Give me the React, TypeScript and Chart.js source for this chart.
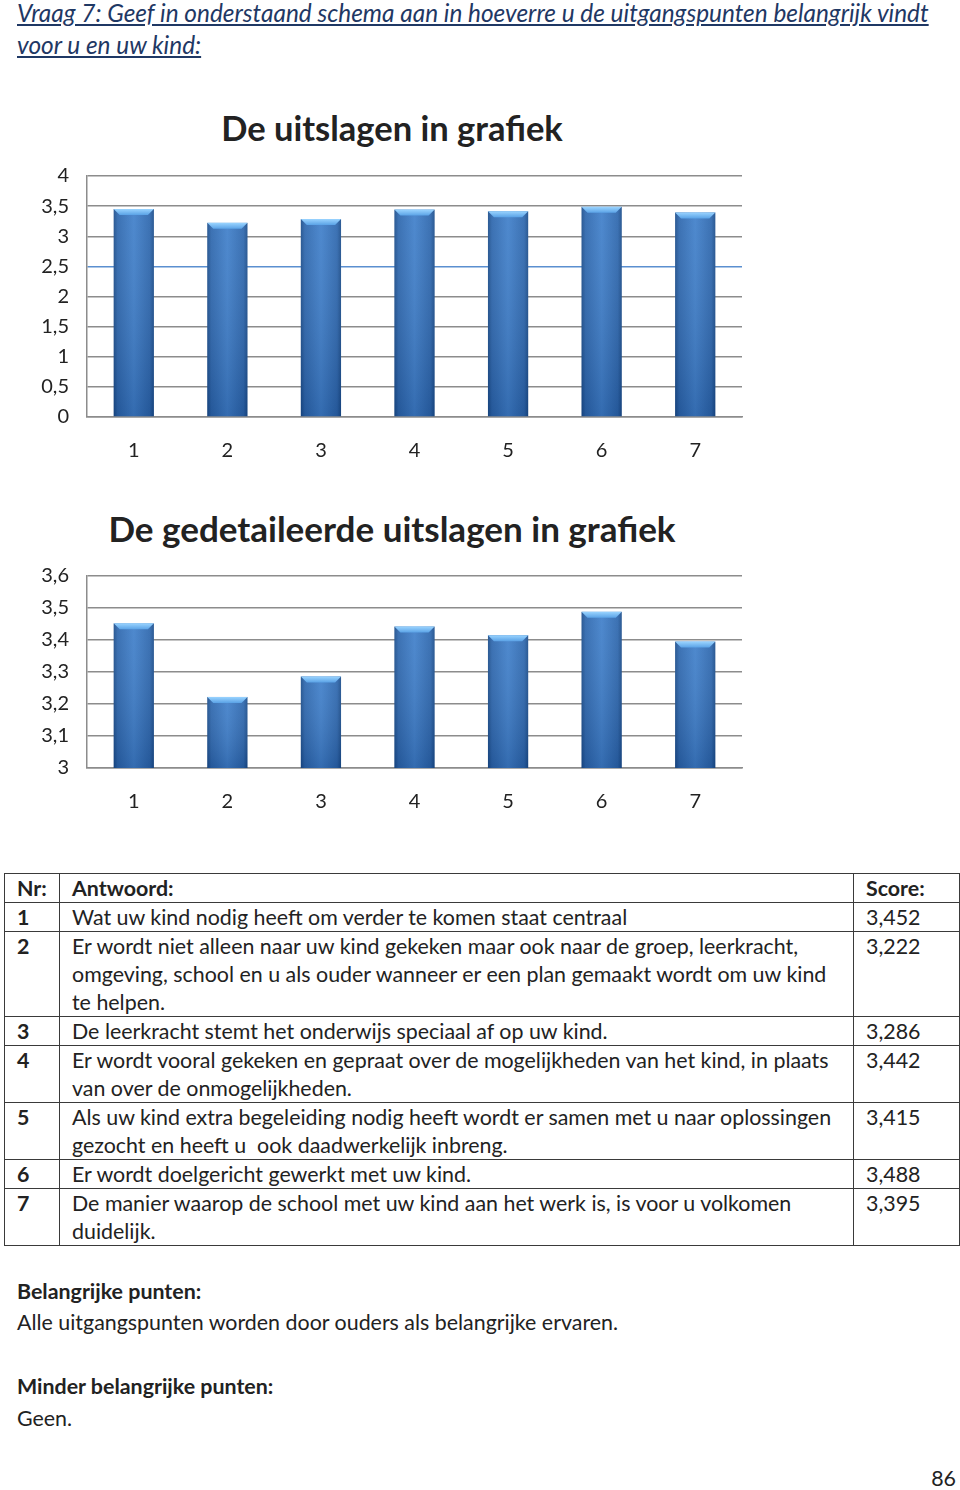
import React, { useEffect, useRef } from "react";
import { Chart, registerables } from "chart.js";

Chart.register(...registerables);

const categories = ["1", "2", "3", "4", "5", "6", "7"];
const scores = [3.452, 3.222, 3.286, 3.442, 3.415, 3.488, 3.395];
const yTicks1 = [0, 0.5, 1, 1.5, 2, 2.5, 3, 3.5, 4];
const yTicks2 = [3, 3.1, 3.2, 3.3, 3.4, 3.5, 3.6];

const questionLines = [
  "Vraag 7: Geef in onderstaand schema aan in hoeverre u de uitgangspunten belangrijk vindt",
  "voor u en uw kind:",
];
const tableHeader = ["Nr:", "Antwoord:", "Score:"];
const answers = [
  ["Wat uw kind nodig heeft om verder te komen staat centraal"],
  [
    "Er wordt niet alleen naar uw kind gekeken maar ook naar de groep, leerkracht,",
    "omgeving, school en u als ouder wanneer er een plan gemaakt wordt om uw kind",
    "te helpen.",
  ],
  ["De leerkracht stemt het onderwijs speciaal af op uw kind."],
  [
    "Er wordt vooral gekeken en gepraat over de mogelijkheden van het kind, in plaats",
    "van over de onmogelijkheden.",
  ],
  [
    "Als uw kind extra begeleiding nodig heeft wordt er samen met u naar oplossingen",
    "gezocht en heeft u  ook daadwerkelijk inbreng.",
  ],
  ["Er wordt doelgericht gewerkt met uw kind."],
  [
    "De manier waarop de school met uw kind aan het werk is, is voor u volkomen",
    "duidelijk.",
  ],
];
const scoreLabels = ["3,452", "3,222", "3,286", "3,442", "3,415", "3,488", "3,395"];

const FONT = "Lato, 'Open Sans', sans-serif";

const fmt = (v: number) => String(Number(v.toFixed(2))).replace(".", ",");

const bevelPlugin = {
  id: "bevelBars",
  afterDatasetsDraw(chart: any) {
    const ctx = chart.ctx as CanvasRenderingContext2D;
    const area = chart.chartArea;
    const meta = chart.getDatasetMeta(0);
    ctx.save();
    meta.data.forEach((bar: any) => {
      const w = bar.width;
      const l = bar.x - w / 2;
      const r = bar.x + w / 2;
      const top = Math.max(bar.y, area.top);
      const base = Math.min(bar.base, area.bottom);
      const g = ctx.createLinearGradient(l, 0, r, 0);
      g.addColorStop(0, "#1a4c8a");
      g.addColorStop(0.1, "#2c66ad");
      g.addColorStop(0.5, "#3f7fca");
      g.addColorStop(0.9, "#2c66ad");
      g.addColorStop(1, "#1a4c8a");
      ctx.fillStyle = g;
      ctx.fillRect(l, top, w, base - top);
      const gv = ctx.createLinearGradient(0, top, 0, base);
      gv.addColorStop(0, "rgba(255,255,255,0.08)");
      gv.addColorStop(1, "rgba(0,20,60,0.18)");
      ctx.fillStyle = gv;
      ctx.fillRect(l, top, w, base - top);
      const b = 6;
      ctx.beginPath();
      ctx.moveTo(l, top);
      ctx.lineTo(r, top);
      ctx.lineTo(r - b, top + b);
      ctx.lineTo(l + b, top + b);
      ctx.closePath();
      const gt = ctx.createLinearGradient(0, top, 0, top + b);
      gt.addColorStop(0, "#9ad4ff");
      gt.addColorStop(1, "#5aa2e6");
      ctx.fillStyle = gt;
      ctx.fill();
    });
    ctx.restore();
  },
};

function BarChart(props: {
  min: number;
  max: number;
  ticks: number[];
  height: number;
  highlight?: number;
}) {
  const ref = useRef<HTMLCanvasElement | null>(null);
  useEffect(() => {
    if (!ref.current) return;
    const chart = new Chart(ref.current, {
      type: "bar",
      data: {
        labels: categories,
        datasets: [
          {
            data: scores,
            backgroundColor: "rgba(0,0,0,0)",
            barPercentage: 0.43,
            categoryPercentage: 1,
          },
        ],
      },
      options: {
        responsive: false,
        animation: false,
        layout: { padding: { top: 0, right: 18, left: 0, bottom: 0 } },
        plugins: { legend: { display: false }, tooltip: { enabled: false }, title: { display: false } },
        scales: {
          x: {
            grid: { display: false },
            border: { display: true, color: "#8c8c8c", width: 1.5 },
            ticks: { color: "#222", font: { family: FONT, size: 20 }, padding: 14 },
            afterFit: (s: any) => {
              s.height = 50;
            },
          },
          y: {
            min: props.min,
            max: props.max,
            border: { display: true, color: "#8c8c8c", width: 1.5 },
            grid: {
              drawTicks: false,
              lineWidth: 1.5,
              color: (c: any) =>
                props.highlight !== undefined && c.tick && Math.abs(c.tick.value - props.highlight) < 1e-6
                  ? "#5b8fd0"
                  : "#8c8c8c",
            },
            afterBuildTicks: (s: any) => {
              s.ticks = props.ticks.map((v) => ({ value: v }));
            },
            ticks: {
              color: "#222",
              font: { family: FONT, size: 20 },
              padding: 18,
              callback: (v: any) => fmt(Number(v)),
            },
            afterFit: (s: any) => {
              s.width = 87;
            },
          },
        },
      },
      plugins: [bevelPlugin],
    });
    return () => chart.destroy();
  }, []);
  return <canvas ref={ref} width={760} height={props.height} style={{ display: "block" }} />;
}

export default function App() {
  const rowHeights = [29, 84, 29, 57, 57, 29, 55];
  const cellBase: React.CSSProperties = {
    border: "1.5px solid #3a3a3a",
    padding: "0 12px",
    verticalAlign: "top",
    lineHeight: "28px",
    whiteSpace: "pre",
    boxSizing: "border-box",
  };
  const titleStyle: React.CSSProperties = {
    position: "absolute",
    left: 0,
    width: 784,
    textAlign: "center",
    fontFamily: FONT,
    fontWeight: 700,
    color: "#222",
    lineHeight: "40px",
  };
  const para: React.CSSProperties = {
    position: "absolute",
    left: 17,
    fontSize: 21.4,
    lineHeight: "28px",
    color: "#222",
    whiteSpace: "nowrap",
  };
  return (
    <div
      style={{
        position: "absolute",
        left: 0,
        top: 0,
        width: 960,
        height: 1490,
        background: "#fff",
        fontFamily: FONT,
        overflow: "hidden",
      }}
    >
      {questionLines.map((t, i) => (
        <div
          key={i}
          style={{
            position: "absolute",
            left: 17,
            top: -3 + i * 32,
            fontSize: 24.4,
            lineHeight: "32px",
            fontStyle: "italic",
            textDecoration: "underline",
            color: "#1f3864",
            whiteSpace: "nowrap",
          }}
        >
          {t}
        </div>
      ))}

      <div style={{ ...titleStyle, top: 108, fontSize: 34.5 }}>De uitslagen in grafiek</div>
      <div style={{ position: "absolute", left: 0, top: 146 }}>
        <BarChart min={0} max={4} ticks={yTicks1} height={321} highlight={2.5} />
      </div>

      <div style={{ ...titleStyle, top: 508, fontSize: 35 }}>De gedetaileerde uitslagen in grafiek</div>
      <div style={{ position: "absolute", left: 0, top: 546 }}>
        <BarChart min={3} max={3.6} ticks={yTicks2} height={272} />
      </div>

      <table
        style={{
          position: "absolute",
          left: 4,
          top: 873,
          width: 955,
          borderCollapse: "collapse",
          tableLayout: "fixed",
          fontSize: 21.4,
          color: "#222",
        }}
      >
        <colgroup>
          <col style={{ width: 55 }} />
          <col style={{ width: 794 }} />
          <col style={{ width: 106 }} />
        </colgroup>
        <tbody>
          <tr style={{ height: 29 }}>
            {tableHeader.map((h, i) => (
              <td key={i} style={{ ...cellBase, fontWeight: 700 }}>
                {h}
              </td>
            ))}
          </tr>
          {answers.map((lines, i) => (
            <tr key={i} style={{ height: rowHeights[i] }}>
              <td style={{ ...cellBase, fontWeight: 700 }}>{categories[i]}</td>
              <td style={cellBase}>{lines.join("\n")}</td>
              <td style={cellBase}>{scoreLabels[i]}</td>
            </tr>
          ))}
        </tbody>
      </table>

      <div style={{ ...para, top: 1277, fontWeight: 700 }}>Belangrijke punten:</div>
      <div style={{ ...para, top: 1308 }}>Alle uitgangspunten worden door ouders als belangrijke ervaren.</div>
      <div style={{ ...para, top: 1372, fontWeight: 700 }}>Minder belangrijke punten:</div>
      <div style={{ ...para, top: 1404 }}>Geen.</div>
      <div style={{ ...para, left: 900, width: 56, textAlign: "right", top: 1464 }}>86</div>
    </div>
  );
}
